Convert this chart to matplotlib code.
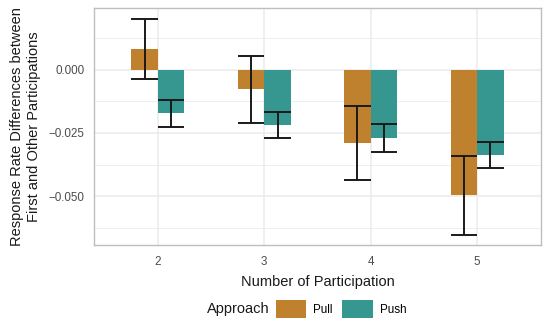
import numpy as np
import matplotlib.pyplot as plt
from matplotlib.patches import Patch

plt.rcParams['font.family'] = ['Liberation Sans', 'DejaVu Sans']

# --- Data ---
participations = ["2", "3", "4", "5"]
pull_mean = [0.0081, -0.0078, -0.0290, -0.0495]
pull_err = [0.0119, 0.0133, 0.0146, 0.0156]
push_mean = [-0.0173, -0.0217, -0.0269, -0.0338]
push_err = [0.0052, 0.0051, 0.0056, 0.0051]

PULL_COLOR = "#BF812D"
PUSH_COLOR = "#35978F"
GRID = "#EBEBEB"

fig = plt.figure(figsize=(5.43, 3.22), dpi=100)
ax = fig.add_axes([94 / 543, 77 / 322, 447 / 543, 237 / 322])

x = np.arange(len(participations))
w = 0.25

# grid
for yv in [0.0, -0.025, -0.05]:
    ax.axhline(yv, color=GRID, lw=1.1, zorder=0)
for yv in [0.0125, -0.0125, -0.0375, -0.0625]:
    ax.axhline(yv, color=GRID, lw=0.6, zorder=0)
for xv in x:
    ax.axvline(xv, color=GRID, lw=1.1, zorder=0)

ax.bar(x - w / 2, pull_mean, width=w, color=PULL_COLOR, zorder=2)
ax.bar(x + w / 2, push_mean, width=w, color=PUSH_COLOR, zorder=2)

for offs, mean, err in [(-w / 2, pull_mean, pull_err), (w / 2, push_mean, push_err)]:
    mean = np.array(mean)
    err = np.array(err)
    xs = x + offs
    ax.vlines(xs, mean - err, mean + err, color="#1a1a1a", lw=1.4, zorder=3)
    ax.hlines(mean - err, xs - w / 2, xs + w / 2, color="#1a1a1a", lw=1.4, zorder=3)
    ax.hlines(mean + err, xs - w / 2, xs + w / 2, color="#1a1a1a", lw=1.4, zorder=3)

ax.set_xlim(-0.6, 3.6)
ax.set_ylim(-0.0692, 0.0243)
ax.set_xticks(x)
ax.set_xticklabels(participations)
ax.set_yticks([0.0, -0.025, -0.05])
ax.set_yticklabels(["0.000", "\u22120.025", "\u22120.050"])
ax.tick_params(axis="y", length=0, labelsize=8.4, labelcolor="#4D4D4D", pad=7)
ax.tick_params(axis="x", length=0, labelsize=8.4, labelcolor="#4D4D4D", pad=8)

for s in ax.spines.values():
    s.set_color("#BEBEBE")
    s.set_linewidth(1.0)

ax.set_xlabel("Number of Participation", fontsize=10.5, color="#1a1a1a", labelpad=5)
ax.set_ylabel("Response Rate Differences between\nFirst and Other Participations",
              fontsize=10.5, color="#1a1a1a", labelpad=5, linespacing=1.3)

# legend
fig.text(207 / 543, 1 - 309 / 322, "Approach", fontsize=10.5, color="#1a1a1a",
         ha="left", va="center")
handles = [Patch(facecolor=PULL_COLOR, label="Pull"), Patch(facecolor=PUSH_COLOR, label="Push")]
fig.legend(handles=handles, loc="center left", bbox_to_anchor=(268 / 543, 1 - 309 / 322),
           ncol=2, frameon=False, fontsize=8.4, handlelength=2.6, handleheight=2.1,
           handletextpad=0.6, columnspacing=0.8, borderpad=0.2)

fig.savefig("out.png", dpi=100)
